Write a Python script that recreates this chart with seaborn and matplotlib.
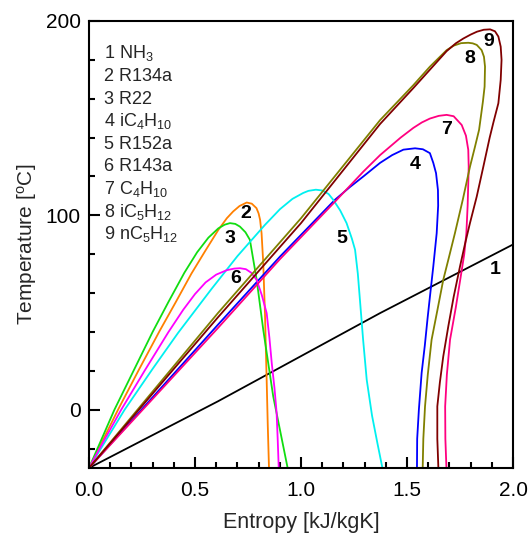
import numpy as np
import pandas as pd
import matplotlib
matplotlib.use("Agg")
import matplotlib.pyplot as plt
from matplotlib.ticker import MultipleLocator
import seaborn as sns

# fluids in the order of the numbered list
fluids = ["NH3", "R134a", "R22", "iC4H10", "R152a", "R143a", "C4H10", "iC5H12", "nC5H12"]
list_labels = ["1 NH$_3$", "2 R134a", "3 R22", "4 iC$_4$H$_{10}$", "5 R152a",
               "6 R143a", "7 C$_4$H$_{10}$", "8 iC$_5$H$_{12}$", "9 nC$_5$H$_{12}$"]
colors = ["#000000", "#ff8000", "#11dd11", "#0000ff", "#00f0f0",
          "#ff00ff", "#ff0080", "#808000", "#800000"]

# saturation curves: entropy [kJ/kgK], temperature [C]
s_nh3 = [0, 0.608, 1.373, 2.0]
T_nh3 = [-30, 4.3, 49.7, 85]

s_r134a = [0, 0.137, 0.235, 0.333, 0.41, 0.483, 0.55, 0.61, 0.65, 0.68, 0.71, 0.744,
           0.768, 0.79, 0.80, 0.807, 0.814, 0.818, 0.822, 0.826, 0.83, 0.834, 0.838,
           0.843, 0.849]
T_r134a = [-30, 0, 20.5, 40.5, 55.5, 70, 82, 92.5, 98.5, 102, 104.8, 106.6,
           106, 103.7, 101, 97.7, 90.8, 83, 75.4, 62, 49.7, 32, 15.4,
           -7, -30]

s_r22 = [0, 0.06, 0.12, 0.21, 0.30, 0.375, 0.45, 0.51, 0.563, 0.61, 0.64, 0.665,
         0.69, 0.712, 0.738, 0.759, 0.791, 0.822, 0.869, 0.937]
T_r22 = [-30, -15, 0, 20, 40, 55.5, 70.5, 81, 88.5, 93.3, 95.2, 96,
         95.6, 94.2, 91.3, 87.4, 66.8, 41.1, 6.8, -30]

s_ic4 = [0, 0.608, 0.901, 1.16, 1.23, 1.294, 1.373, 1.43, 1.483, 1.538,
         1.575, 1.608, 1.624, 1.637, 1.646, 1.647, 1.64, 1.624, 1.61, 1.597,
         1.584, 1.569, 1.556, 1.548, 1.547]
T_ic4 = [-30, 43.7, 78.8, 108, 114.5, 120, 127, 131, 133.8, 134.5,
         134, 132, 127, 121.7, 113, 105, 90.8, 73.7, 60, 47,
         33, 18.9, 0, -15, -30]

s_r152a = [0, 0.168, 0.30, 0.42, 0.577, 0.70, 0.83, 0.901, 0.96, 1.01,
           1.035, 1.07, 1.10, 1.13, 1.152, 1.185, 1.215, 1.24, 1.255, 1.268,
           1.278, 1.293, 1.31, 1.335, 1.36, 1.384]
T_r152a = [-30, 0, 21, 39.5, 62, 79, 95.1, 103.2, 108.5, 111.5,
           112.6, 113.2, 112.8, 111, 108, 102.5, 96, 88, 82.3, 70,
           56.5, 36, 15.4, -3, -17, -30]

s_r143a = [0, 0.075, 0.152, 0.262, 0.375, 0.445, 0.50, 0.55, 0.60, 0.65, 0.685, 0.712,
           0.74, 0.765, 0.791, 0.815, 0.838, 0.851, 0.862, 0.875, 0.885, 0.89, 0.895]
T_r143a = [-30, -15, 0, 20, 40, 51.5, 59.5, 65.5, 69.5, 71.8, 72.6, 72.8,
           72.3, 70.5, 66.8, 59, 49.7, 37, 24, 11, -1.7, -15, -30]

s_c4 = [0, 0.608, 0.901, 1.16, 1.294, 1.373, 1.47, 1.53, 1.57, 1.608, 1.65, 1.687,
        1.72, 1.758, 1.778, 1.789, 1.791, 1.789, 1.786, 1.78, 1.77, 1.752, 1.73,
        1.703, 1.688, 1.68, 1.681, 1.686]
T_c4 = [-30, 42, 77.5, 107, 122.5, 131, 140, 145, 147.8, 149.8, 151.2, 151.7,
        151, 146.5, 141, 133.7, 125, 116.5, 105, 90.8, 80, 67.5, 52.5,
        36, 18, 1.7, -15, -30]

s_ic5 = [0, 0.608, 1.0, 1.373, 1.53, 1.608, 1.687, 1.72, 1.755, 1.789,
         1.81, 1.829, 1.852, 1.863, 1.868, 1.866, 1.858, 1.84, 1.82, 1.797,
         1.763, 1.726, 1.698, 1.671, 1.643, 1.616, 1.598, 1.585, 1.577, 1.574]
T_ic5 = [-30, 49.7, 98.5, 149, 167, 176.5, 185, 187.3, 188.6, 188.8,
         188.5, 187.7, 185, 181.6, 176.5, 166.2, 158.5, 144, 135, 125,
         108, 90.8, 78.5, 66.8, 51, 36, 18, 1.7, -15, -30]

s_nc5 = [0, 0.608, 1.0, 1.373, 1.53, 1.687, 1.73, 1.766, 1.80, 1.83, 1.862, 1.892,
         1.915, 1.931, 1.942, 1.946, 1.942, 1.931, 1.908, 1.89, 1.86, 1.829,
         1.797, 1.773, 1.75, 1.72, 1.695, 1.671, 1.655, 1.643, 1.643, 1.648]
T_nc5 = [-30, 47.5, 96, 147, 165.5, 184.5, 188.5, 191, 193, 194.5, 195.5, 195.7,
         194.7, 192, 186.8, 180, 169.7, 157.7, 148, 140, 125, 109.7,
         96, 85, 73.7, 58, 43, 27.4, 14, 1.7, -15, -30]

curves_s = [s_nh3, s_r134a, s_r22, s_ic4, s_r152a, s_r143a, s_c4, s_ic5, s_nc5]
curves_T = [T_nh3, T_r134a, T_r22, T_ic4, T_r152a, T_r143a, T_c4, T_ic5, T_nc5]

# where the curve numbers sit
num_s = [1.915, 0.739, 0.665, 1.538, 1.192, 0.693, 1.687, 1.794, 1.884]
num_T = [72, 101, 88.3, 126, 88.3, 67.7, 144.3, 180.8, 189.4]

rows = []
for name, ss, tt in zip(fluids, curves_s, curves_T):
    for i, (a, b) in enumerate(zip(ss, tt)):
        rows.append((name, i, a, b))
df = pd.DataFrame(rows, columns=["fluid", "idx", "s", "T"])

sns.set_theme(style="ticks")
plt.rcParams["font.family"] = ["Liberation Sans", "DejaVu Sans"]
plt.rcParams["mathtext.fontset"] = "custom"
plt.rcParams["mathtext.rm"] = "Liberation Sans"
plt.rcParams["mathtext.it"] = "Liberation Sans:italic"
plt.rcParams["mathtext.bf"] = "Liberation Sans:bold"

fig = plt.figure(figsize=(5.30, 5.37), dpi=100)
ax = fig.add_axes([89 / 530, 1 - 468 / 537, 424 / 530, 447 / 537])

sns.lineplot(data=df, x="s", y="T", hue="fluid", hue_order=fluids,
             palette=dict(zip(fluids, colors)), sort=False, estimator=None,
             linewidth=1.3, legend=False, ax=ax)

for k in range(len(fluids)):
    ax.text(num_s[k], num_T[k], str(k + 1), fontsize=14, fontweight="bold",
            ha="center", va="center", color="black")

for k, lab in enumerate(list_labels):
    y_ax = (468 - (58.3 + 22.6 * k)) / 447
    ax.text(0.035, y_ax, lab, transform=ax.transAxes, fontsize=13,
            ha="left", va="baseline")

ax.set_xlim(0, 2.0)
ax.set_ylim(-30, 200)
ax.set_xticks([0, 0.5, 1.0, 1.5, 2.0])
ax.set_xticklabels(["0.0", "0.5", "1.0", "1.5", "2.0"])
ax.set_yticks([0, 100, 200])
ax.xaxis.set_minor_locator(MultipleLocator(0.1))
ax.yaxis.set_minor_locator(MultipleLocator(20))
ax.tick_params(which="both", direction="in", bottom=True, left=True,
               top=False, right=False, width=1.5, colors="black", labelsize=15)
ax.tick_params(which="major", length=8)
ax.tick_params(which="minor", length=4)
ax.tick_params(axis="x", pad=9)
ax.tick_params(axis="y", pad=6)
for sp in ax.spines.values():
    sp.set_linewidth(1.5)
    sp.set_color("black")
    sp.set_visible(True)

ax.set_xlabel("Entropy [kJ/kgK]", fontsize=15.5, labelpad=9)
ax.set_ylabel(r"Temperature [$^{\mathrm{o}}$C]", fontsize=15, labelpad=5)

fig.savefig("out.png", dpi=100)
